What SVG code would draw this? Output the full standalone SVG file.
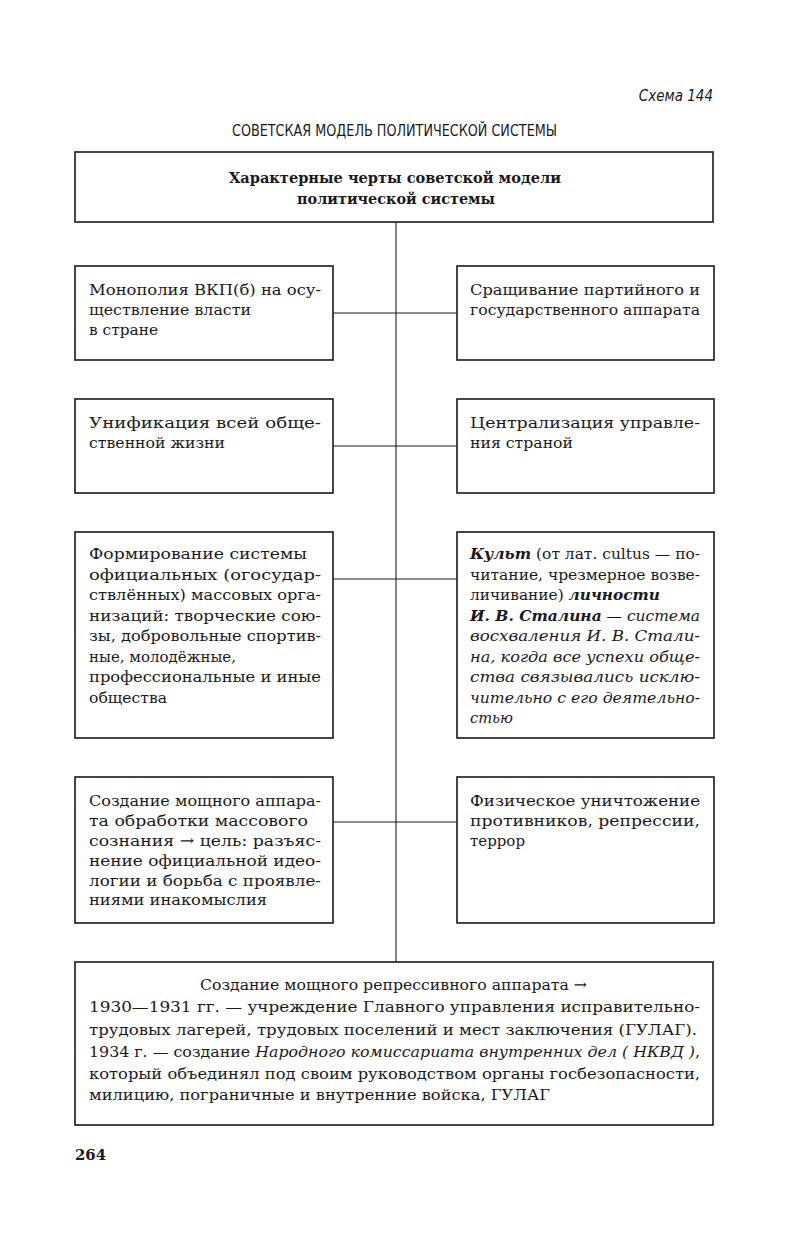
<svg xmlns="http://www.w3.org/2000/svg" width="791" height="1245" viewBox="0 0 791 1245">
<style>
.box{fill:#fff;stroke:#1a1a1a;stroke-width:1.6}
.ln{stroke:#1a1a1a;stroke-width:1.1;fill:none}
.t{font-family:"DejaVu Serif","Liberation Serif",serif;font-size:15.5px;fill:#1a1a1a}
.b{font-weight:bold}
.i{font-style:italic}
.s{font-family:"DejaVu Sans Condensed","DejaVu Sans","Liberation Sans",sans-serif;fill:#1a1a1a}
</style>
<rect width="791" height="1245" fill="#fff"/>
<text class="s i" x="713" y="101" font-size="15" text-anchor="end">Схема 144</text>
<text class="s" x="232" y="136" font-size="15" textLength="325" lengthAdjust="spacingAndGlyphs">СОВЕТСКАЯ МОДЕЛЬ ПОЛИТИЧЕСКОЙ СИСТЕМЫ</text>

<g id="connectors">
<line class="ln" x1="396" y1="222" x2="396" y2="962"/>
<line class="ln" x1="333" y1="313" x2="457" y2="313"/>
<line class="ln" x1="333" y1="446" x2="457" y2="446"/>
<line class="ln" x1="333" y1="579" x2="457" y2="579"/>
<line class="ln" x1="333" y1="822" x2="457" y2="822"/>
</g>

<g id="top">
<rect class="box" x="75" y="152" width="638" height="70"/>
<text class="t b" x="229" y="183" textLength="332" lengthAdjust="spacingAndGlyphs">Характерные черты советской модели</text>
<text class="t b" x="297" y="204" textLength="198" lengthAdjust="spacingAndGlyphs">политической системы</text>
</g>

<g id="l1">
<rect class="box" x="75" y="266" width="258" height="94"/>
<text class="t" x="89" y="295" textLength="232" lengthAdjust="spacingAndGlyphs">Монополия ВКП(б) на осу-</text>
<text class="t" x="89" y="315" textLength="162" lengthAdjust="spacingAndGlyphs">ществление власти</text>
<text class="t" x="89" y="335" textLength="69" lengthAdjust="spacingAndGlyphs">в стране</text>
</g>

<g id="r1">
<rect class="box" x="457" y="266" width="257" height="94"/>
<text class="t" x="470" y="295" textLength="230" lengthAdjust="spacingAndGlyphs">Сращивание партийного и</text>
<text class="t" x="470" y="315" textLength="230" lengthAdjust="spacingAndGlyphs">государственного аппарата</text>
</g>

<g id="l2">
<rect class="box" x="75" y="399" width="258" height="94"/>
<text class="t" x="89" y="428" textLength="232" lengthAdjust="spacingAndGlyphs">Унификация всей обще-</text>
<text class="t" x="89" y="448" textLength="136" lengthAdjust="spacingAndGlyphs">ственной жизни</text>
</g>

<g id="r2">
<rect class="box" x="457" y="399" width="257" height="94"/>
<text class="t" x="470" y="428" textLength="230" lengthAdjust="spacingAndGlyphs">Централизация управле-</text>
<text class="t" x="470" y="448" textLength="103" lengthAdjust="spacingAndGlyphs">ния страной</text>
</g>

<g id="l3">
<rect class="box" x="75" y="532" width="258" height="206"/>
<text class="t" x="89" y="559" textLength="218" lengthAdjust="spacingAndGlyphs">Формирование системы</text>
<text class="t" x="89" y="580" textLength="232" lengthAdjust="spacingAndGlyphs">официальных (огосудар-</text>
<text class="t" x="89" y="600" textLength="232" lengthAdjust="spacingAndGlyphs">ствлённых) массовых орга-</text>
<text class="t" x="89" y="621" textLength="232" lengthAdjust="spacingAndGlyphs">низаций: творческие сою-</text>
<text class="t" x="89" y="641" textLength="232" lengthAdjust="spacingAndGlyphs">зы, добровольные спортив-</text>
<text class="t" x="89" y="662" textLength="147" lengthAdjust="spacingAndGlyphs">ные, молодёжные,</text>
<text class="t" x="89" y="682" textLength="232" lengthAdjust="spacingAndGlyphs">профессиональные и иные</text>
<text class="t" x="89" y="703" textLength="78" lengthAdjust="spacingAndGlyphs">общества</text>
</g>

<g id="r3">
<rect class="box" x="457" y="532" width="257" height="206"/>
<text class="t" x="470" y="559" textLength="230" lengthAdjust="spacingAndGlyphs"><tspan class="b i">Культ</tspan> (от лат. cultus — по-</text>
<text class="t" x="470" y="580" textLength="230" lengthAdjust="spacingAndGlyphs">читание, чрезмерное возве-</text>
<text class="t" x="470" y="600" textLength="190" lengthAdjust="spacingAndGlyphs">личивание) <tspan class="b i">личности</tspan></text>
<text class="t i" x="470" y="621" textLength="230" lengthAdjust="spacingAndGlyphs"><tspan class="b">И. В. Сталина</tspan> — система</text>
<text class="t i" x="470" y="641" textLength="230" lengthAdjust="spacingAndGlyphs">восхваления И. В. Стали-</text>
<text class="t i" x="470" y="662" textLength="230" lengthAdjust="spacingAndGlyphs">на, когда все успехи обще-</text>
<text class="t i" x="470" y="682" textLength="230" lengthAdjust="spacingAndGlyphs">ства связывались исклю-</text>
<text class="t i" x="470" y="703" textLength="230" lengthAdjust="spacingAndGlyphs">чительно с его деятельно-</text>
<text class="t i" x="470" y="723" textLength="43" lengthAdjust="spacingAndGlyphs">стью</text>
</g>

<g id="l4">
<rect class="box" x="75" y="777" width="258" height="146"/>
<text class="t" x="89" y="806" textLength="232" lengthAdjust="spacingAndGlyphs">Создание мощного аппара-</text>
<text class="t" x="89" y="826" textLength="219" lengthAdjust="spacingAndGlyphs">та обработки массового</text>
<text class="t" x="89" y="846" textLength="232" lengthAdjust="spacingAndGlyphs">сознания → цель: разъяс-</text>
<text class="t" x="89" y="866" textLength="232" lengthAdjust="spacingAndGlyphs">нение официальной идео-</text>
<text class="t" x="89" y="886" textLength="232" lengthAdjust="spacingAndGlyphs">логии и борьба с проявле-</text>
<text class="t" x="89" y="905" textLength="178" lengthAdjust="spacingAndGlyphs">ниями инакомыслия</text>
</g>

<g id="r4">
<rect class="box" x="457" y="777" width="257" height="146"/>
<text class="t" x="470" y="806" textLength="230" lengthAdjust="spacingAndGlyphs">Физическое уничтожение</text>
<text class="t" x="470" y="826" textLength="230" lengthAdjust="spacingAndGlyphs">противников, репрессии,</text>
<text class="t" x="470" y="846" textLength="55" lengthAdjust="spacingAndGlyphs">террор</text>
</g>

<g id="bottom">
<rect class="box" x="75" y="962" width="638" height="163"/>
<text class="t" x="200" y="990" textLength="387" lengthAdjust="spacingAndGlyphs">Создание мощного репрессивного аппарата →</text>
<text class="t" x="89" y="1012" textLength="611" lengthAdjust="spacingAndGlyphs">1930—1931 гг. — учреждение Главного управления исправительно-</text>
<text class="t" x="89" y="1035" textLength="608" lengthAdjust="spacingAndGlyphs">трудовых лагерей, трудовых поселений и мест заключения (ГУЛАГ).</text>
<text class="t" x="89" y="1057" textLength="611" lengthAdjust="spacingAndGlyphs">1934 г. — создание <tspan class="i">Народного комиссариата внутренних дел ( НКВД )</tspan>,</text>
<text class="t" x="89" y="1079" textLength="611" lengthAdjust="spacingAndGlyphs">который объединял под своим руководством органы госбезопасности,</text>
<text class="t" x="89" y="1100" textLength="461" lengthAdjust="spacingAndGlyphs">милицию, пограничные и внутренние войска, ГУЛАГ</text>
</g>

<text class="t b" x="75" y="1160" font-size="17" textLength="31" lengthAdjust="spacingAndGlyphs">264</text>
</svg>
